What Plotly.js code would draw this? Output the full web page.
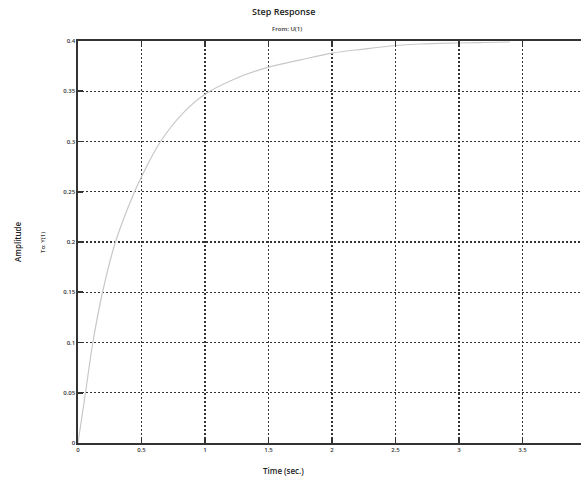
<!DOCTYPE html>
<html>
<head>
<meta charset="utf-8">
<script src="https://cdn.plot.ly/plotly-3.0.1.min.js"></script>
<style>
html,body{margin:0;padding:0;overflow:hidden;background:#fff;}
#chart{width:592px;height:484px;}
</style>
</head>
<body>
<div id="chart"></div>
<script>
// Step response
var timeSec = [0, 0.059, 0.117, 0.193, 0.295, 0.445, 0.5, 0.65, 0.825, 1.0, 1.22, 1.5, 1.744, 2.0, 2.25, 2.5, 2.69, 2.98, 3.2, 3.4];
var amplitude = [0, 0.05, 0.1, 0.15, 0.2, 0.25, 0.265, 0.3, 0.328, 0.347, 0.3615, 0.374, 0.381, 0.388, 0.392, 0.3955, 0.397, 0.398, 0.3985, 0.399];

var xTickVals = [0, 0.5, 1, 1.5, 2, 2.5, 3, 3.5];
var xTickText = ["0", "0.5", "1", "1.5", "2", "2.5", "3", "3.5"];
var yTickVals = [0, 0.05, 0.1, 0.15, 0.2, 0.25, 0.3, 0.35, 0.4];
var yTickText = ["0", "0.05", "0.1", "0.15", "0.2", "0.25", "0.3", "0.35", "0.4"];

var titleText = "Step Response";
var fromText = "From: U(1)";
var xLabel = "Time (sec.)";
var yLabel = "Amplitude";
var toText = "To: Y(1)";

var fontFam = "Open Sans, Noto Sans, sans-serif";

var trace = {
  x: timeSec, y: amplitude, type: 'scatter', mode: 'lines',
  line: {color: '#c8c8c8', width: 1.2, shape: 'spline', smoothing: 1},
  hoverinfo: 'skip'
};

var W = 592, L = 78, R = 6;
var pw = W - L - R;
function px2paperX(p){ return (p - L) / pw; }

var gridDash = '1.5px,2.5px';

var layout = {
  width: W, height: 484,
  margin: {l: L, r: R, t: 41, b: 41, pad: 0},
  paper_bgcolor: '#fff', plot_bgcolor: '#fff',
  showlegend: false,
  font: {family: fontFam, color: '#222', size: 6},
  xaxis: {
    range: [0, 4], tickvals: xTickVals, ticktext: xTickText,
    showgrid: true, gridcolor: '#333', gridwidth: 1.4, griddash: gridDash,
    showline: true, linecolor: '#333', linewidth: 1.6, mirror: 'ticks',
    ticks: 'inside', ticklen: 5, tickwidth: 1.6, tickcolor: '#333',
    zeroline: false, tickfont: {size: 6, family: fontFam, color: '#333', weight: 600},
    fixedrange: true
  },
  yaxis: {
    range: [0, 0.4], tickvals: yTickVals, ticktext: yTickText,
    showgrid: true, gridcolor: '#333', gridwidth: 1.4, griddash: gridDash,
    showline: true, linecolor: '#333', linewidth: 1.6, mirror: 'ticks',
    ticks: 'inside', ticklen: 5, tickwidth: 1.6, tickcolor: '#333',
    zeroline: false, tickfont: {size: 6, family: fontFam, color: '#333', weight: 600},
    fixedrange: true
  },
  annotations: [
    {text: titleText, xref: 'paper', yref: 'paper', x: px2paperX(283), y: (443 - 11) / 402,
     showarrow: false, xanchor: 'center', yanchor: 'middle',
     font: {size: 9, family: fontFam, color: '#222', weight: 600}},
    {text: fromText, xref: 'paper', yref: 'paper', x: px2paperX(287), y: (443 - 29) / 402,
     showarrow: false, xanchor: 'center', yanchor: 'middle',
     font: {size: 6, family: fontFam, color: '#333', weight: 600}},
    {text: xLabel, xref: 'paper', yref: 'paper', x: px2paperX(283), y: (443 - 471) / 402,
     showarrow: false, xanchor: 'center', yanchor: 'middle',
     font: {size: 8, family: fontFam, color: '#222', weight: 600}},
    {text: yLabel, xref: 'paper', yref: 'paper', x: px2paperX(17), y: (443 - 242) / 402,
     showarrow: false, xanchor: 'center', yanchor: 'middle', textangle: -90,
     font: {size: 8, family: fontFam, color: '#222', weight: 600}},
    {text: toText, xref: 'paper', yref: 'paper', x: px2paperX(43), y: (443 - 243) / 402,
     showarrow: false, xanchor: 'center', yanchor: 'middle', textangle: -90,
     font: {size: 6, family: fontFam, color: '#333', weight: 600}}
  ]
};

Plotly.newPlot('chart', [trace], layout, {displayModeBar: false, staticPlot: true});
</script>
</body>
</html>
